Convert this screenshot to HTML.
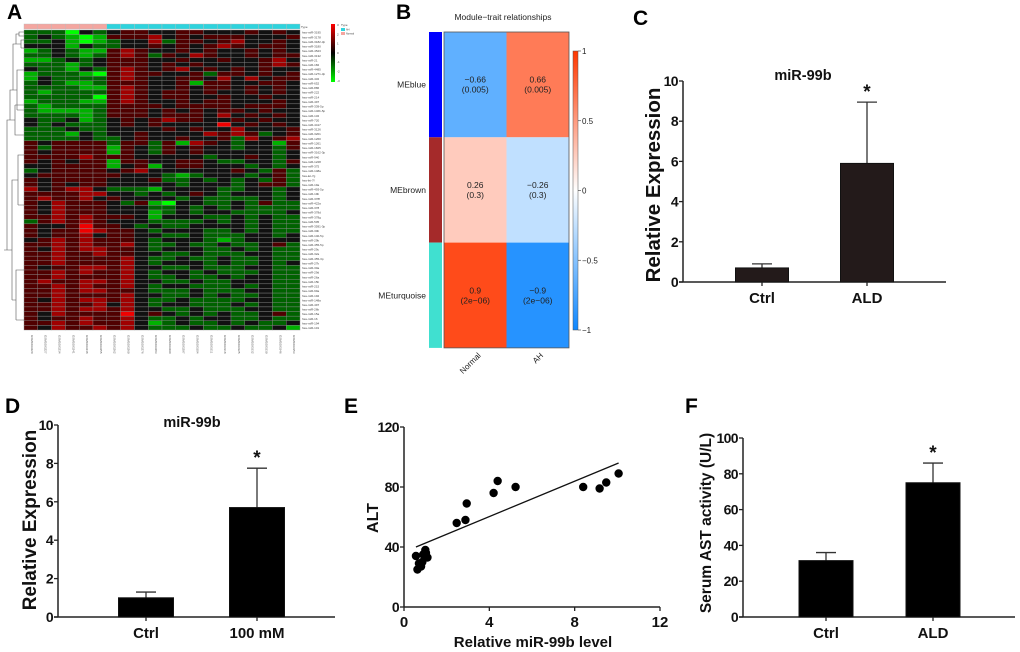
<!DOCTYPE html>
<html><head><meta charset="utf-8"><style>
html,body{margin:0;padding:0;background:#fff}
svg{display:block;font-family:"Liberation Sans",Arial,sans-serif}
.b{font-weight:bold}
</style></head><body>
<svg id="fig" width="1020" height="652" viewBox="0 0 1020 652">
<text x="7" y="19" font-size="21" class="b">A</text>
<text x="396" y="19" font-size="21" class="b">B</text>
<text x="633" y="25" font-size="21" class="b">C</text>
<text x="5" y="413" font-size="21" class="b">D</text>
<text x="344" y="413" font-size="21" class="b">E</text>
<text x="685" y="413" font-size="21" class="b">F</text>
<g id="pa"></g>
<g id="pb"></g>
<g id="pc"></g>
<g id="pd"></g>
<g id="pe"></g>
<g id="pf"></g>
</svg>
<script>
const NS="http://www.w3.org/2000/svg";
function mk(parent,tag,attrs,txt){const e=document.createElementNS(NS,tag);for(const k in attrs)e.setAttribute(k,attrs[k]);if(txt!==undefined)e.textContent=txt;parent.appendChild(e);return e;}

const aRows=[
"22203234433443334343","23210144453434443334","22310123352443453343","33313223343434543443",
"12321145433434334343","22321245424354334344","11232344433433433453","22212344434343333454",
"32213245434534343433","12221045443342443434","13222245433443535344","23211244433414433443",
"22221145433434434343","21222245434434334343","22222045434433433433","12221145433434433343",
"21222244443444434443","21111244434343443433","22221244434443534343","32231234345443343433",
"32322234343333634343","22232233334343353334","22213233433335454234","22223223433433425345",
"43444424424154323314","42444414324343323324","43444414324343333323","44445444333332334323",
"43434414433443223324","33444413413443332323","23444434533333343242","34444443332123332342",
"43444433342232323242","43434433333233323442","53455322213333223323","44445533232343233323",
"45445343333232222323","43544432410332232422","43544433322323232222","43544433312323322223",
"44545444313332232322","24545433322223232322","43346443232233332322","43446544323332232322",
"43445344332232223323","34545444323332123333","44545445322322322342","43545544323332232322",
"44544544332232223322","44544445322322322322","44544445323332322323","43445545332232223322",
"44545445323323222322","44544445322322323322","45445545332232233322","44545445323322232322",
"44545544322232223322","44544445332232322322","43545545322322223322","44544535323322232322",
"44545545332232223322","43544446343232322342","43445445322323322322","44545445312322323223",
"43544545322232232231"];
const aGroups=["Normal","Normal","Normal","Normal","Normal","Normal","AH","AH","AH","AH","AH","AH","AH","AH","AH","AH","AH","AH","AH","AH"];
const aRowLabels=["hsa-miR-3195","hsa-miR-3178","hsa-miR-3182-3p","hsa-miR-3180","hsa-miR-4523","hsa-miR-3132","hsa-miR-21","hsa-miR-182","hsa-miR-4485","hsa-miR-1271-3p","hsa-miR-432","hsa-miR-652","hsa-miR-886","hsa-miR-222","hsa-miR-214","hsa-miR-497","hsa-miR-339-5p","hsa-miR-146b-5p","hsa-miR-132","hsa-miR-720","hsa-miR-4417","hsa-miR-3126","hsa-miR-3201","hsa-miR-1260","hsa-miR-1261","hsa-miR-1825","hsa-miR-3162-3p","hsa-miR-940","hsa-miR-1228","hsa-miR-375","hsa-miR-148a","hsa-let-7g","hsa-let-7f","hsa-miR-19a","hsa-miR-493-5p","hsa-miR-19b","hsa-miR-378f","hsa-miR-422a","hsa-miR-378","hsa-miR-378d","hsa-miR-378g","hsa-miR-505","hsa-miR-3591-3p","hsa-miR-30b","hsa-miR-140-5p","hsa-miR-29b","hsa-miR-455-5p","hsa-miR-29c","hsa-miR-32a","hsa-miR-455-3p","hsa-miR-27b","hsa-miR-30a","hsa-miR-29d","hsa-miR-26a","hsa-miR-15b","hsa-miR-215","hsa-miR-99a","hsa-miR-192","hsa-miR-148a","hsa-miR-497","hsa-miR-26b","hsa-miR-15a","hsa-miR-16","hsa-miR-194","hsa-miR-101"];

const bModules=["MEblue","MEbrown","MEturquoise"];
const bModuleColors=["#0000ff","#a52a2a","#40e0d0"];
const bTraits=["Normal","AH"];
const bCorr=[[-0.66,0.66],[0.26,-0.26],[0.9,-0.9]];
const bPval=[["0.005","0.005"],["0.3","0.3"],["2e\u221206","2e\u221206"]];
const bScaleTicks=[1,0.5,0,-0.5,-1];

const cCats=["Ctrl","ALD"];
const cVals=[0.7,5.9];
const cErr=[0.9,8.95];
const cTicks=[0,2,4,6,8,10];
const dCats=["Ctrl","100 mM"];
const dVals=[1.0,5.7];
const dErr=[1.3,7.75];
const dTicks=[0,2,4,6,8,10];
const eX=[0.56,0.63,0.7,0.8,0.86,0.9,1.0,1.1,1.03,2.47,2.88,2.94,4.2,4.39,5.23,8.4,9.17,9.48,10.06];
const eY=[34,25,29,27,30,35,38,33,36,56,58,69,76,84,80,80,79,83,89];
const eFitX=[0.56,10.06];
const eFitY=[40,96];
const eXTicks=[0,4,8,12];
const eYTicks=[0,40,80,120];
const fCats=["Ctrl","ALD"];
const fVals=[31.5,75];
const fErr=[36,86];
const fTicks=[0,20,40,60,80,100];

(function(){
const g=document.getElementById('pa');
const x0=24,x1=300,y0=30,y1=330;
const nc=aGroups.length,nr=aRows.length;
const cw=(x1-x0)/nc,rh=(y1-y0)/nr;
function col(v){if(v<0){return "rgb(0,"+Math.round(-v/3*235+20)+",0)";}if(v>0){return "rgb("+Math.round(v/3*240)+",0,0)";}return "#111";}
for(let j=0;j<nc;j++){
 const t=mk(g,'rect',{x:x0+j*cw,y:24,width:cw,height:5,fill:aGroups[j]==="Normal"?"#f4a6a0":"#2ed3dd",stroke:"#bbb","stroke-width":0.4});
 
 
}
for(let i=0;i<nr;i++){
 for(let j=0;j<nc;j++){
  const v=parseInt(aRows[i][j])-3;
  const r=mk(g,'rect',{x:x0+j*cw,y:y0+i*rh,width:cw,height:rh,fill:col(v),stroke:"#8a8a8a","stroke-width":0.4});
  
  
 }
 const lb=mk(g,'text',{x:x1+2,y:y0+i*rh+rh*0.8,"font-size":3,fill:"#444"},aRowLabels[i%aRowLabels.length]);
 
 
}
for(let j=0;j<nc;j++){
 const cx=x0+j*cw+cw/2;
 const lb=mk(g,'text',{x:cx,y:335,"font-size":3,fill:"#555",transform:"rotate(90 "+cx+" 335)"},"GSM"+(1093220+j*7));
 
 
}
mk(g,'text',{x:301,y:28,"font-size":3,fill:"#444"},"Type");
const d=mk(g,'path',{fill:"none",stroke:"#555","stroke-width":0.6,d:
"M24,32H19V36H24M19,34H16V44H21V40H24M21,48H24M21,40V48M16,44H13V90H17V70H24M17,110H24M17,70V110M13,90H10V120H15V135H24M15,105H24M15,105V135M10,120H7V250H12V180H18V155H24M18,205H24M18,155V205M12,300H16V270H24M16,320H24M16,270V320M12,180V300M7,250H4"});


const grd=mk(g,'defs',{});
const lg=mk(grd,'linearGradient',{id:"ga",x1:0,y1:0,x2:0,y2:1});
mk(lg,'stop',{offset:"0",  "stop-color":"#ff0000"});
mk(lg,'stop',{offset:"0.5","stop-color":"#000000"});
mk(lg,'stop',{offset:"1",  "stop-color":"#00ff00"});
const cb=mk(g,'rect',{x:331,y:24,width:4,height:58,fill:"url(#ga)"});


[3,2,1,0,-1,-2,-3].forEach((v,k)=>{mk(g,'text',{x:337,y:26+k*9.3,"font-size":3,fill:"#444"},String(v));});
mk(g,'text',{x:341,y:26,"font-size":3,fill:"#444"},"Type");
const l1=mk(g,'rect',{x:341,y:28,width:4,height:3,fill:"#2ed3dd"});


mk(g,'text',{x:346,y:30.5,"font-size":2.5,fill:"#444"},"AH");
const l2=mk(g,'rect',{x:341,y:32,width:4,height:3,fill:"#f4a6a0"});


mk(g,'text',{x:346,y:34.5,"font-size":2.5,fill:"#444"},"Normal");
})();

(function(){
const g=document.getElementById('pb');
const gx0=444,cw=62.5,gy0=32,rh=105.3;
function col(v){
 if(v<0){const t=-v;return "rgb("+Math.round(255-(255-14)*t)+","+Math.round(255-(255-135)*t)+",255)";}
 const t=v;return "rgb(255,"+Math.round(255-(255-55)*t)+","+Math.round(255-255*t)+")";
}
mk(g,'text',{x:503,y:20,"font-size":8.5,"text-anchor":"middle",fill:"#222"},"Module\u2212trait relationships");
for(let i=0;i<bModules.length;i++){
 const mr=mk(g,'rect',{x:429,y:gy0+i*rh,width:13,height:rh,fill:bModuleColors[i]});
 
 
 const ml=mk(g,'text',{x:426,y:gy0+i*rh+rh/2+3,"font-size":8.5,"text-anchor":"end",fill:"#222"},bModules[i]);
 
 
 for(let j=0;j<bTraits.length;j++){
  const c=mk(g,'rect',{x:gx0+j*cw,y:gy0+i*rh,width:cw,height:rh,fill:col(bCorr[i][j])});
  
  
  const cx=gx0+j*cw+cw/2,cy=gy0+i*rh+rh/2;
  const t1=mk(g,'text',{x:cx,y:cy-2,"font-size":8.5,"text-anchor":"middle",fill:"#222"},String(bCorr[i][j]).replace('-','\u2212'));
  
  
  mk(g,'text',{x:cx,y:cy+8,"font-size":8.5,"text-anchor":"middle",fill:"#222"},"("+bPval[i][j]+")");
 }
}
mk(g,'rect',{x:gx0,y:gy0,width:cw*2,height:rh*3,fill:"none",stroke:"#555","stroke-width":0.8});
bTraits.forEach((t,j)=>{const cx=gx0+j*cw+cw/2+6;const e=mk(g,'text',{x:cx,y:356,"font-size":8,"text-anchor":"end",fill:"#222",transform:"rotate(-45 "+cx+" 356)"},t);
 
 });
const defs=mk(g,'defs',{});
const lg=mk(defs,'linearGradient',{id:"gb",x1:0,y1:0,x2:0,y2:1});
mk(lg,'stop',{offset:"0","stop-color":col(1)});
mk(lg,'stop',{offset:"0.5","stop-color":"#fff"});
mk(lg,'stop',{offset:"1","stop-color":col(-1)});
const cb=mk(g,'rect',{x:573,y:51,width:5,height:279,fill:"url(#gb)",stroke:"#555","stroke-width":0.5});


bScaleTicks.forEach(v=>{const y=51+(1-v)/2*279;mk(g,'line',{x1:578,x2:581,y1:y,y2:y,stroke:"#333","stroke-width":0.6});
 const t=mk(g,'text',{x:582,y:y+3,"font-size":8,fill:"#222"},String(v).replace('-','\u2212'));
 
 });
})();

function barChart(id,cfg){
 const g=document.getElementById(id);
 const ys=v=>cfg.y0-(v-cfg.ymin)/(cfg.ymax-cfg.ymin)*(cfg.y0-cfg.ytop);
 mk(g,'line',{x1:cfg.ax,x2:cfg.ax,y1:cfg.ytop,y2:cfg.y0,stroke:"#222","stroke-width":1.5});
 mk(g,'line',{x1:cfg.ax-4,x2:cfg.xend,y1:cfg.y0,y2:cfg.y0,stroke:"#222","stroke-width":1.5});
 cfg.ticks.forEach(t=>{const y=ys(t);mk(g,'line',{x1:cfg.ax-4,x2:cfg.ax,y1:y,y2:y,stroke:"#222","stroke-width":1.3});
  const lb=mk(g,'text',{x:cfg.ax-5,y:y+5,"font-size":14,"letter-spacing":"-0.6","text-anchor":"end",class:"b",fill:"#111"},String(t));
  
  });
 cfg.cats.forEach((c,i)=>{
  const cx=cfg.cx[i];const top=ys(cfg.vals[i]);const et=ys(cfg.err[i]);
  mk(g,'line',{x1:cx,x2:cx,y1:et,y2:top,stroke:"#333","stroke-width":1.3});
  mk(g,'line',{x1:cx-10,x2:cx+10,y1:et,y2:et,stroke:"#333","stroke-width":1.3});
  const r=mk(g,'rect',{x:cx-cfg.bw/2,y:top,width:cfg.bw,height:cfg.y0-top,fill:cfg.fill,stroke:"#111","stroke-width":1});
  
  
  mk(g,'line',{x1:cx,x2:cx,y1:cfg.y0,y2:cfg.y0+4,stroke:"#222","stroke-width":1.3});
  const lb=mk(g,'text',{x:cx,y:cfg.y0+21,"font-size":15,"text-anchor":"middle",class:"b",fill:"#111"},c);
  
  
  if(i===1){const s=mk(g,'text',{x:cx,y:et-4,"font-size":19,"text-anchor":"middle",class:"b",fill:"#111"},"*");
   
   }
 });
 if(cfg.title){const t=mk(g,'text',{x:cfg.titleX,y:cfg.titleY,"font-size":14.5,"text-anchor":"middle",class:"b",fill:"#111"},cfg.title);
  
  }
 const yt=mk(g,'text',{x:cfg.ytx,y:cfg.yty,"font-size":cfg.ytfs,"text-anchor":"middle",class:"b",fill:"#111",transform:"rotate(-90 "+cfg.ytx+" "+cfg.yty+")"},cfg.ytitle);
 
 
}
barChart('pc',{cats:cCats,vals:cVals,err:cErr,ticks:cTicks,ymin:0,ymax:10,ax:683,y0:282,ytop:81,xend:946,cx:[762,867],bw:53,fill:"#231a1a",title:"miR-99b",titleX:803,titleY:80,ytitle:"Relative Expression",ytx:660,yty:185,ytfs:20.5});
barChart('pd',{cats:dCats,vals:dVals,err:dErr,ticks:dTicks,ymin:0,ymax:10,ax:58,y0:617,ytop:425,xend:335,cx:[146,257],bw:55,fill:"#000",title:"miR-99b",titleX:192,titleY:427,ytitle:"Relative Expression",ytx:36,yty:520,ytfs:19});
barChart('pf',{cats:fCats,vals:fVals,err:fErr,ticks:fTicks,ymin:0,ymax:100,ax:743,y0:617,ytop:438,xend:1015,cx:[826,933],bw:54,fill:"#000",title:"",ytitle:"Serum AST activity (U/L)",ytx:711,yty:523,ytfs:15.5});

(function(){
const g=document.getElementById('pe');
const ax=404,ay0=607,ayT=427,axR=660;
const xs=v=>ax+v/12*(axR-ax);
const ys=v=>ay0-v/120*(ay0-ayT);
mk(g,'line',{x1:ax,x2:ax,y1:ayT,y2:ay0,stroke:"#222","stroke-width":1.5});
mk(g,'line',{x1:ax,x2:axR,y1:ay0,y2:ay0,stroke:"#222","stroke-width":1.5});
eYTicks.forEach(t=>{const y=ys(t);mk(g,'line',{x1:ax-4,x2:ax,y1:y,y2:y,stroke:"#222","stroke-width":1.3});
 const l=mk(g,'text',{x:ax-5,y:y+5,"font-size":14,"letter-spacing":"-0.6","text-anchor":"end",class:"b",fill:"#111"},String(t));
 
 });
eXTicks.forEach(t=>{const x=xs(t);mk(g,'line',{x1:x,x2:x,y1:ay0,y2:ay0+4,stroke:"#222","stroke-width":1.3});
 const l=mk(g,'text',{x:x,y:ay0+20,"font-size":15,"text-anchor":"middle",class:"b",fill:"#111"},String(t));
 
 });
const fl=mk(g,'line',{x1:xs(eFitX[0]),x2:xs(eFitX[1]),y1:ys(eFitY[0]),y2:ys(eFitY[1]),stroke:"#111","stroke-width":1.3});


eX.forEach((x,i)=>{const c=mk(g,'circle',{cx:xs(x),cy:ys(eY[i]),r:4.2,fill:"#000"});
 
 });
const xt=mk(g,'text',{x:533,y:647,"font-size":15,"text-anchor":"middle",class:"b",fill:"#111"},"Relative miR-99b level");


const yt=mk(g,'text',{x:378,y:518,"font-size":16,"text-anchor":"middle",class:"b",fill:"#111",transform:"rotate(-90 378 518)"},"ALT");


})();
</script>
</body></html>
